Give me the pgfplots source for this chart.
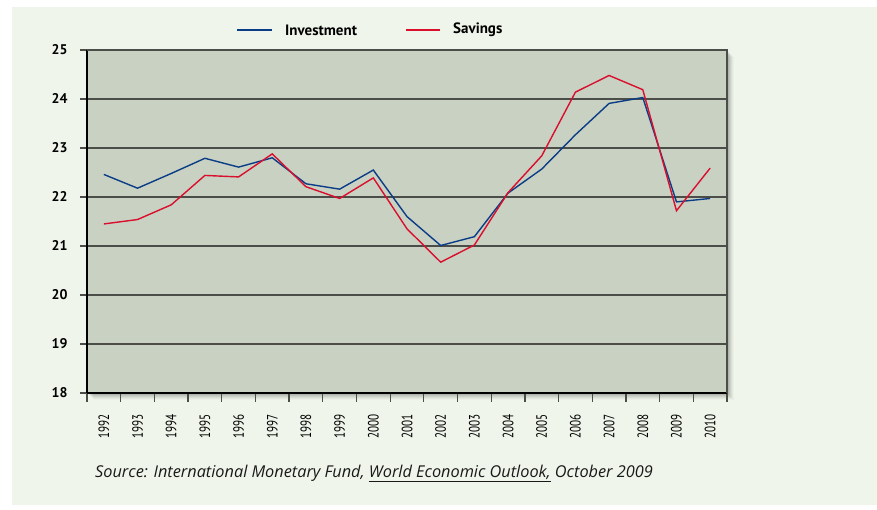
\documentclass[border=0pt]{standalone}
\usepackage{pgfplots}
\pgfplotsset{compat=1.18}
\usepackage{fontspec}
\setmainfont{PT Sans}
\newfontfamily\srcfont{Open Sans}
\newfontfamily\yearfont[FakeStretch=0.74]{PT Sans}
\definecolor{panel}{HTML}{EFF5EA}
\definecolor{plotbg}{HTML}{C9D1C3}
\definecolor{inv}{HTML}{0A3D86}
\definecolor{sav}{HTML}{D90F2D}
\definecolor{gridc}{HTML}{4A4D48}
\pgfplotstableread{
x inv sav
0 22.46 21.45
1 22.18 21.54
2 22.48 21.84
3 22.79 22.44
4 22.61 22.41
5 22.80 22.88
6 22.27 22.21
7 22.16 21.97
8 22.55 22.39
9 21.60 21.35
10 21.01 20.67
11 21.19 21.02
12 22.08 22.09
13 22.57 22.84
14 23.27 24.14
15 23.91 24.48
16 24.03 24.19
17 21.90 21.72
18 21.97 22.59
}\data
\begin{document}
\begin{tikzpicture}[x=1pt,y=1pt]
\useasboundingbox (-87,-117) rectangle (790,393);
\fill[white] (-87,-117) rectangle (790,393);
\fill[panel] (-75,-112) rectangle (790,386);
% soft shadow
\foreach \i/\o in {1/0.10,2/0.08,3/0.06,4/0.05,5/0.04,6/0.03,7/0.02}{
  \fill[black,opacity=\o] (\i,-\i) rectangle (640+\i,343-\i);
}
\begin{axis}[
  at={(0,0)}, anchor=south west,
  scale only axis, width=640pt, height=343pt,
  xmin=-0.5, xmax=18.5, ymin=18, ymax=25,
  axis background/.style={fill=plotbg},
  axis x line*=bottom, axis y line*=left,
  axis line style={black, line width=1.4pt},
  xtick={0,...,18},
  xticklabels={1992,1993,1994,1995,1996,1997,1998,1999,2000,2001,2002,2003,2004,2005,2006,2007,2008,2009,2010},
  every major x tick/.append style={draw=none},
  minor xtick={-0.5,0.5,...,18.5},
  major tick length=7pt,
  minor tick length=9pt,
  tick align=outside,
  tick style={gridc, line width=1.3pt},
  xticklabel style={rotate=90, anchor=east, font=\yearfont\fontsize{15}{14}\selectfont, text=black, xshift=-13pt, inner sep=1pt},
  ytick={18,...,25},
  yticklabel style={font=\bfseries\fontsize{14}{14}\selectfont, xshift=-9pt},
  /pgf/number format/assume math mode=true,
  ymajorgrids,
  grid style={gridc, line width=1.3pt},
  clip=false,
]
\draw[gridc, line width=1.3pt] (axis cs:-0.5,25) -- (axis cs:18.5,25) -- (axis cs:18.5,18);
\addplot[inv, line width=1.4pt] table[x=x,y=inv] {\data};
\addplot[sav, line width=1.4pt] table[x=x,y=sav] {\data};
\end{axis}
% legend
\draw[inv, line width=2pt] (237-87,393-30) -- (272-87,393-30);
\node[anchor=west, inner sep=0pt, font=\bfseries\fontsize{15}{15}\selectfont] at (285-87,393-30) {Investment};
\draw[sav, line width=2pt] (406-87,393-30) -- (440-87,393-30);
\node[anchor=west, inner sep=0pt, font=\bfseries\fontsize{15}{15}\selectfont] at (453-87,393-30) {Savings};
% source
\node[anchor=base west, inner sep=0pt, font=\srcfont\itshape\fontsize{16.3}{16}\selectfont, text=black!90] at (95-87,393-478) {Source: International Monetary Fund, \underline{World Economic Outlook,} October 2009};
\end{tikzpicture}
\end{document}
